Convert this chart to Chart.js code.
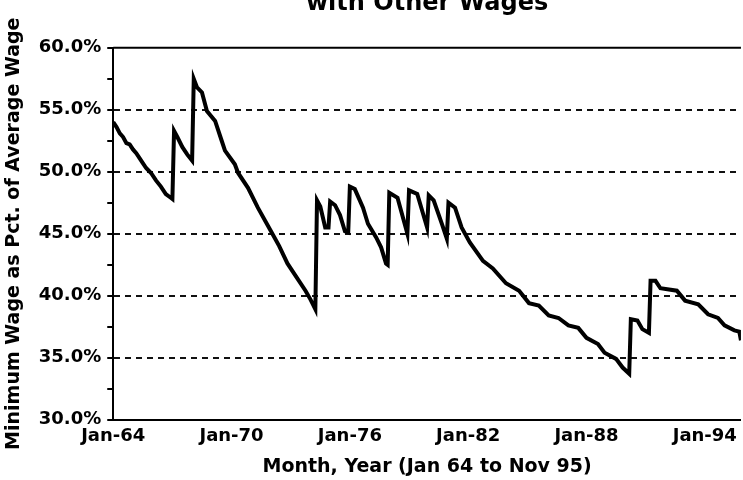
<!DOCTYPE html>
<html>
<head>
<meta charset="utf-8">
<script src="https://cdn.jsdelivr.net/npm/chart.js@4"></script>
<style>
  html, body { margin: 0; padding: 0; background: #fff; overflow: hidden; }
  #wrap { position: absolute; left: 0; top: -16px; width: 743px; height: 496px; }
</style>
</head>
<body>
<div id="wrap"><canvas id="chart"></canvas></div>
<script>
// month index: 0 = Jan 64 ... 382 = Nov 95
const months = [0, 2, 4, 6, 8, 10, 12, 14, 16, 18, 20, 23, 26, 29, 32, 35, 36,
  37, 39, 42, 45, 48,
  49, 51, 54, 57, 62, 66, 68, 74, 76, 82, 88, 96, 101, 106, 111, 117, 120, 123,
  124, 126, 129, 131,
  132, 135, 138, 141, 143,
  144, 147, 152, 155, 160, 163, 166, 167,
  168, 173, 179,
  180, 185, 191,
  192, 195, 200, 203,
  204, 208, 212, 217, 225, 231, 239, 247, 253, 259, 265, 271, 277, 283, 288, 295, 299, 306, 310, 314,
  315, 319, 322, 326,
  327, 330, 333, 343, 348, 356, 362, 368, 372, 378, 381, 382];

// minimum wage as percent of average wage
const wagePct = [54.0, 53.6, 53.1, 52.8, 52.3, 52.2, 51.8, 51.5, 51.1, 50.7, 50.3, 49.9, 49.3, 48.8, 48.2, 47.9, 47.8,
  53.3, 52.8, 52.0, 51.4, 50.9,
  57.5, 56.8, 56.4, 54.9, 54.1, 52.5, 51.7, 50.6, 49.9, 48.7, 47.1, 45.2, 44.0, 42.6, 41.6, 40.4, 39.7, 38.9,
  47.7, 47.2, 45.5, 45.5,
  47.6, 47.3, 46.5, 45.2, 45.1,
  48.8, 48.6, 47.1, 45.8, 44.7, 43.9, 42.6, 42.5,
  48.3, 47.9, 45.0,
  48.5, 48.2, 45.5,
  48.1, 47.7, 45.8, 44.6,
  47.5, 47.1, 45.5, 44.3, 42.8, 42.2, 41.0, 40.4, 39.4, 39.2, 38.4, 38.2, 37.6, 37.4, 36.6, 36.1, 35.4, 34.9, 34.2, 33.7,
  38.1, 38.0, 37.3, 37.0,
  41.2, 41.2, 40.6, 40.4, 39.6, 39.3, 38.5, 38.2, 37.6, 37.2, 37.1, 36.4];

const tickMonths = [0, 72, 144, 216, 288, 360];
const tickLabels = ['Jan-64', 'Jan-70', 'Jan-76', 'Jan-82', 'Jan-88', 'Jan-94'];

const FONT = '"DejaVu Sans", sans-serif';

// solid frame line along the 60% edge
const topLine = {
  id: 'topLine',
  beforeDatasetsDraw(chart) {
    const { ctx, chartArea } = chart;
    ctx.save();
    ctx.strokeStyle = '#000';
    ctx.lineWidth = 2;
    ctx.beginPath();
    ctx.moveTo(chartArea.left, chartArea.top);
    ctx.lineTo(chartArea.right, chartArea.top);
    ctx.stroke();
    ctx.restore();
  }
};

new Chart(document.getElementById('chart'), {
  type: 'line',
  data: {
    datasets: [{
      data: months.map((m, i) => ({ x: m, y: wagePct[i] })),
      borderColor: '#000',
      borderWidth: 4,
      pointRadius: 0,
      tension: 0,
      fill: false
    }]
  },
  options: {
    responsive: true,
    maintainAspectRatio: false,
    animation: false,
    layout: { padding: { bottom: 2 } },
    plugins: {
      legend: { display: false },
      tooltip: { enabled: false },
      title: {
        display: true,
        fullSize: false,
        text: 'with Other Wages',
        color: '#000',
        font: { family: FONT, size: 24, weight: 'bold' },
        padding: { top: 5, bottom: 30 }
      }
    },
    scales: {
      x: {
        type: 'linear',
        min: 0,
        max: 382,
        afterBuildTicks: axis => { axis.ticks = tickMonths.map(v => ({ value: v })); },
        ticks: {
          color: '#000',
          padding: 6,
          maxRotation: 0,
          autoSkip: false,
          font: { family: FONT, size: 18, weight: 'bold' },
          callback: v => tickLabels[tickMonths.indexOf(v)]
        },
        grid: { display: false, drawTicks: false },
        border: { display: true, color: '#000', width: 2 },
        title: {
          display: true,
          text: 'Month, Year (Jan 64 to Nov 95)',
          color: '#000',
          font: { family: FONT, size: 19, weight: 'bold' },
          padding: { top: 2, bottom: 0 }
        }
      },
      y: {
        min: 30,
        max: 60,
        ticks: {
          stepSize: 2.5,
          color: '#000',
          padding: 6,
          autoSkip: false,
          font: { family: FONT, size: 18, weight: 'bold' },
          callback: v => (v % 5 === 0 ? v.toFixed(1) + '%' : '')
        },
        grid: {
          color: c => (c.tick.value % 5 === 0 && c.tick.value > 30 && c.tick.value < 60 ? '#111' : 'rgba(0,0,0,0)'),
          lineWidth: 2,
          tickColor: '#000',
          tickLength: 6
        },
        border: { display: true, color: '#000', width: 2, dash: [6, 5] },
        title: {
          display: true,
          text: 'Minimum Wage as Pct. of Average Wage',
          color: '#000',
          font: { family: FONT, size: 19, weight: 'bold' },
          padding: { top: 3, bottom: 7 }
        }
      }
    }
  },
  plugins: [topLine]
});
</script>
</body>
</html>
